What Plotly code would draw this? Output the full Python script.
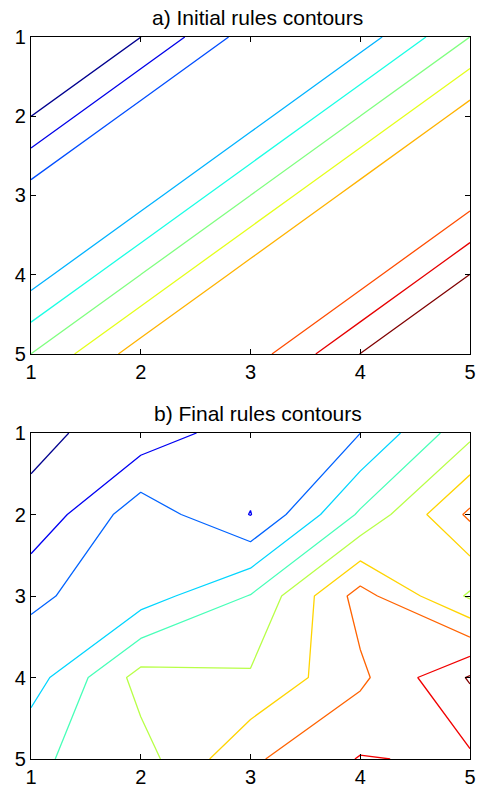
import plotly.graph_objects as go

# Grid of the two rule tables (input 1 along x, input 2 along y)
grid_x = [1, 2, 3, 4, 5]
grid_y = [1, 2, 3, 4, 5]
tick_vals = [1, 2, 3, 4, 5]
tick_text = ["1", "2", "3", "4", "5"]

# Rule outputs before tuning (rows are y = 1..5)
initial_rules = [
    [-1.0, -1.0, -0.5, -0.5, 0.0],
    [-1.0, -0.5, -0.5, 0.0, 0.5],
    [-0.5, -0.5, 0.0, 0.5, 0.5],
    [-0.5, 0.0, 0.5, 0.5, 1.0],
    [0.0, 0.5, 0.5, 1.0, 1.0],
]

# Rule outputs after tuning (rows are y = 1..5)
final_rules = [
    [-0.942, -0.820, -0.584, -0.502, 0.048],
    [-0.858, -0.380, -0.706, -0.070, 0.540],
    [-0.530, -0.398, -0.090, 0.580, 0.070],
    [-0.398, 0.174, 0.124, 0.458, 0.920],
    [-0.134, 0.020, 0.466, 0.712, 0.668],
]

titles = ["a) Initial rules contours", "b) Final rules contours"]

# Contour levels: (start, end, step)
initial_levels = (-0.999, 0.997, 0.1996)
final_levels = (-0.9, 0.9, 0.2)

jet = [
    [0.0, "rgb(0,0,143)"],
    [0.125, "rgb(0,0,255)"],
    [0.375, "rgb(0,255,255)"],
    [0.625, "rgb(255,255,0)"],
    [0.875, "rgb(255,0,0)"],
    [1.0, "rgb(128,0,0)"],
]

FONT = "Liberation Sans, Arial, Helvetica, sans-serif"

fig = go.Figure()


def add_panel(z, levels, xa, ya):
    start, end, size = levels
    fig.add_trace(go.Contour(
        x=grid_x, y=grid_y, z=z,
        xaxis=xa, yaxis=ya,
        autocontour=False,
        contours=dict(start=start, end=end, size=size,
                      coloring="lines", showlabels=False),
        colorscale=jet,
        showscale=False,
        line=dict(width=1.3, smoothing=0),
        hoverinfo="skip",
    ))


add_panel(initial_rules, initial_levels, "x", "y")
add_panel(final_rules, final_levels, "x2", "y2")

axis_style = dict(
    showline=True, linecolor="black", linewidth=1.3, mirror="ticks",
    ticks="inside", ticklen=5, tickwidth=1, tickcolor="black",
    tickvals=tick_vals, ticktext=tick_text,
    tickfont=dict(family=FONT, size=20, color="black"),
    showgrid=False, zeroline=False, automargin=False,
)

top_domain = [0.561, 1.0]
bottom_domain = [0.0, 0.4515]

fig.update_layout(
    width=480, height=787,
    margin=dict(l=31, r=10, t=37, b=28),
    paper_bgcolor="white", plot_bgcolor="white",
    showlegend=False,
    xaxis=dict(domain=[0, 1], anchor="y", range=[1, 5], **axis_style),
    yaxis=dict(domain=top_domain, anchor="x", range=[5, 1], **axis_style),
    xaxis2=dict(domain=[0, 1], anchor="y2", range=[1, 5], **axis_style),
    yaxis2=dict(domain=bottom_domain, anchor="x2", range=[5, 1], **axis_style),
)

for title, dom in zip(titles, [top_domain, bottom_domain]):
    fig.add_annotation(
        text=title, xref="paper", yref="paper",
        x=0.517, y=dom[1], xanchor="center", yanchor="bottom",
        yshift=6, showarrow=False,
        font=dict(family=FONT, size=21, color="black"),
    )

fig.write_html("out.html")
